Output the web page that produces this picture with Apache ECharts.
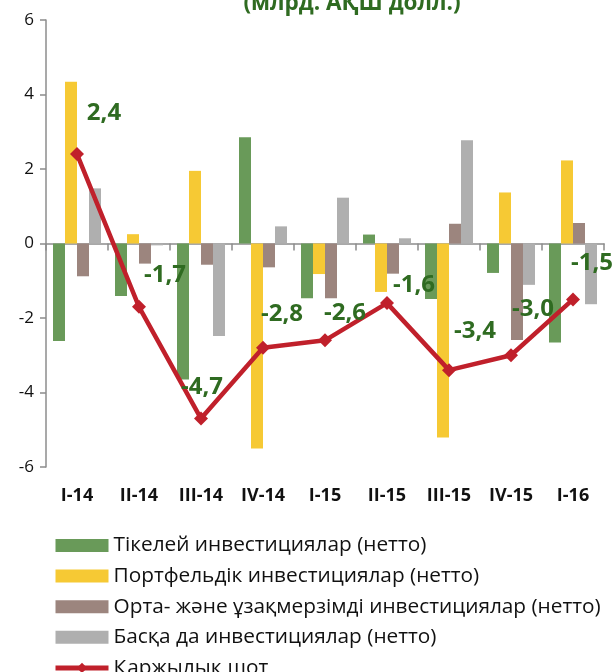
<!DOCTYPE html>
<html>
<head>
<meta charset="utf-8">
<script src="https://cdn.jsdelivr.net/npm/echarts@6/dist/echarts.min.js"></script>
<style>
html,body{margin:0;padding:0;background:#fff;}
#chart{width:615px;height:672px;}
</style>
</head>
<body>
<div id="chart"></div>
<script>
// ---- data ----
var categories = ['I-14','II-14','III-14','IV-14','I-15','II-15','III-15','IV-15','I-16'];
var directInv = [-2.62,-1.41,-3.65,2.85,-1.47,0.24,-1.49,-0.79,-2.66];
var portfolioInv = [4.34,0.25,1.95,-5.50,-0.82,-1.30,-5.21,1.37,2.23];
var midLongInv = [-0.88,-0.54,-0.57,-0.64,-1.47,-0.81,0.53,-2.59,0.55];
var otherInv = [1.48,-0.05,-2.48,0.46,1.23,0.14,2.77,-1.11,-1.63];
var financialAcc = [2.4,-1.7,-4.7,-2.8,-2.6,-1.6,-3.4,-3.0,-1.5];
var yTicks = {min:-6,max:6,interval:2};
var seriesNames = [
  'Тікелей инвестициялар (нетто)',
  'Портфельдік инвестициялар (нетто)',
  'Орта- және ұзақмерзімді инвестициялар (нетто)',
  'Басқа да инвестициялар (нетто)',
  'Қаржылық шот'
];
var titleText = '(млрд. АҚШ долл.)';

// ---- layout / style ----
var FONT = '"Open Sans", sans-serif';
var colors = ['#699a59','#f6c934','#9c857e','#afafaf','#c0202b'];
var labelGreen = '#2f6b21';
var axisGray = '#8c8c8c';
var labelNudge = [[27,-41],[26,-32],[1,-31],[19,-34],[20,-27],[27,-18],[26,-39],[22,-46],[19,-36]];

var chart = echarts.init(document.getElementById('chart'), null, {renderer:'canvas'});

function barSeries(name, data, color){
  return {
    name: name, type:'bar', xAxisIndex:0, yAxisIndex:0,
    data: data, barWidth:12, barGap:'0%',
    itemStyle:{color:color}, z:2
  };
}

var lineData = financialAcc.map(function(v,i){
  return {
    value: v,
    label: {offset: labelNudge[i]}
  };
});

var option = {
  animation:false,
  backgroundColor:'#fff',
  textStyle:{fontFamily:FONT},
  title:{
    text:titleText, left:352, top:-8, textAlign:'center', padding:0,
    textStyle:{fontFamily:FONT, fontSize:22.5, fontWeight:'bold', color:labelGreen}
  },
  grid:{left:46, right:11, top:20, bottom:205, containLabel:false},
  legend:{
    orient:'vertical', left:53, top:535, padding:0, height:220,
    itemWidth:53, itemHeight:13, itemGap:9.6,
    textStyle:{fontFamily:FONT, fontSize:20.8, color:'#111', lineHeight:20},
    data:[
      {name:seriesNames[0], icon:'rect'},
      {name:seriesNames[1], icon:'rect'},
      {name:seriesNames[2], icon:'rect'},
      {name:seriesNames[3], icon:'rect'},
      {name:seriesNames[4], lineStyle:{width:5}}
    ]
  },
  xAxis:[
    {
      type:'category', data:categories, boundaryGap:true,
      axisLine:{onZero:true, lineStyle:{color:axisGray, width:1.5}},
      axisTick:{show:true, length:7, lineStyle:{color:axisGray, width:1.5}},
      axisLabel:{show:false}, splitLine:{show:false}
    },
    {
      type:'category', data:categories, position:'bottom', boundaryGap:true,
      axisLine:{show:false, onZero:false}, axisTick:{show:false},
      axisLabel:{show:true, margin:20, fontFamily:FONT, fontSize:18, fontWeight:'bold', color:'#111'},
      splitLine:{show:false}
    }
  ],
  yAxis:{
    type:'value', min:yTicks.min, max:yTicks.max, interval:yTicks.interval,
    axisLine:{show:true, lineStyle:{color:axisGray, width:1.5}},
    axisTick:{show:true, length:6, lineStyle:{color:axisGray, width:1.5}},
    axisLabel:{margin:12, fontFamily:FONT, fontSize:17, color:'#111'},
    splitLine:{show:false}
  },
  series:[
    barSeries(seriesNames[0], directInv, colors[0]),
    barSeries(seriesNames[1], portfolioInv, colors[1]),
    barSeries(seriesNames[2], midLongInv, colors[2]),
    barSeries(seriesNames[3], otherInv, colors[3]),
    {
      name:seriesNames[4], type:'line', xAxisIndex:0, yAxisIndex:0,
      data:lineData, z:5,
      lineStyle:{color:colors[4], width:4.5},
      itemStyle:{color:colors[4]},
      symbol:'diamond', symbolSize:14, showAllSymbol:true,
      label:{
        show:true, position:'inside', align:'center', verticalAlign:'middle',
        fontFamily:FONT, fontSize:24, fontWeight:'bold', color:labelGreen,
        formatter:function(p){ return (p.value).toFixed(1).replace('.', ','); }
      }
    }
  ]
};
chart.setOption(option);
</script>
</body>
</html>
